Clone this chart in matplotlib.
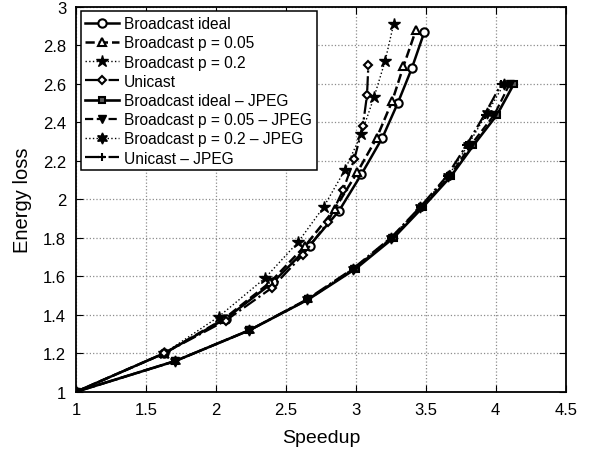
import matplotlib
matplotlib.use("Agg")
import matplotlib.pyplot as plt

plt.rcParams['font.family'] = ['Liberation Sans', 'DejaVu Sans']

# raw (non-JPEG) curves
bi_x = [1, 1.63, 2.07, 2.41, 2.67, 2.88, 3.04, 3.19, 3.30, 3.40, 3.49]
bi_y = [1, 1.20, 1.38, 1.57, 1.76, 1.94, 2.13, 2.32, 2.50, 2.68, 2.87]
b05_x = [1, 1.63, 2.06, 2.39, 2.64, 2.85, 3.01, 3.15, 3.26, 3.34, 3.43]
b05_y = [1, 1.20, 1.38, 1.57, 1.76, 1.95, 2.14, 2.32, 2.51, 2.69, 2.88]
b2_x = [1, 1.63, 2.02, 2.35, 2.59, 2.77, 2.92, 3.04, 3.13, 3.21, 3.27]
b2_y = [1, 1.20, 1.39, 1.59, 1.78, 1.96, 2.15, 2.34, 2.53, 2.72, 2.91]
uni_x = [1, 1.63, 2.07, 2.40, 2.62, 2.80, 2.91, 2.99, 3.05, 3.08, 3.09]
uni_y = [1, 1.20, 1.37, 1.54, 1.71, 1.88, 2.05, 2.21, 2.38, 2.54, 2.70]

# JPEG curves
bij_x = [1, 1.71, 2.24, 2.66, 3.00, 3.27, 3.48, 3.68, 3.84, 4.01, 4.13]
bij_y = [1, 1.16, 1.32, 1.48, 1.64, 1.80, 1.96, 2.12, 2.28, 2.44, 2.60]
b05j_x = [1, 1.71, 2.24, 2.66, 2.99, 3.26, 3.47, 3.67, 3.82, 3.99, 4.10]
b05j_y = [1, 1.16, 1.32, 1.48, 1.64, 1.80, 1.96, 2.12, 2.28, 2.44, 2.60]
b2j_x = [1, 1.71, 2.24, 2.65, 2.98, 3.25, 3.46, 3.66, 3.80, 3.94, 4.06]
b2j_y = [1, 1.16, 1.32, 1.48, 1.64, 1.80, 1.96, 2.12, 2.28, 2.45, 2.60]
unij_x = [1, 1.71, 2.24, 2.65, 2.98, 3.25, 3.46, 3.65, 3.79, 3.92, 4.04]
unij_y = [1, 1.16, 1.32, 1.48, 1.64, 1.80, 1.96, 2.12, 2.28, 2.44, 2.60]

fig = plt.figure(figsize=(5.93, 4.6), dpi=100)
ax = fig.add_axes([0.128, 0.146, 0.826, 0.837])

k = 'black'
ms = 6
ax.plot(bi_x, bi_y, '-', color=k, marker='o', mfc='white', mec=k, mew=1.5, ms=ms, lw=1.8, label='Broadcast ideal')
ax.plot(b05_x, b05_y, '--', color=k, marker='^', mfc='white', mec=k, mew=1.5, ms=ms, lw=1.8, label='Broadcast p = 0.05')
ax.plot(b2_x, b2_y, ':', color=k, marker='*', mfc=k, mec=k, ms=ms + 3, lw=1.0, label='Broadcast p = 0.2')
ax.plot(uni_x, uni_y, '-.', color=k, marker='D', mfc='white', mec=k, mew=1.5, ms=ms - 1.5, lw=1.6, label='Unicast')
ax.plot(bij_x, bij_y, '-', color=k, marker='s', mfc='0.35', mec=k, mew=1.5, ms=ms - 1, lw=1.9, label='Broadcast ideal \u2013 JPEG')
ax.plot(b05j_x, b05j_y, '--', color=k, marker='v', mfc=k, mec=k, ms=ms, lw=1.6, label='Broadcast p = 0.05 \u2013 JPEG')
ax.plot(b2j_x, b2j_y, ':', color=k, marker=(6, 1, 0), mfc=k, mec=k, ms=ms + 2, lw=1.0, label='Broadcast p = 0.2 \u2013 JPEG')
ax.plot(unij_x, unij_y, '-.', color=k, marker='+', mec=k, mew=1.5, ms=ms, lw=1.6, label='Unicast \u2013 JPEG')

ax.set_xlim(1, 4.5)
ax.set_ylim(1, 3)
ax.set_xticks([1, 1.5, 2, 2.5, 3, 3.5, 4, 4.5])
ax.set_xticklabels(['1', '1.5', '2', '2.5', '3', '3.5', '4', '4.5'])
ax.set_yticks([1, 1.2, 1.4, 1.6, 1.8, 2, 2.2, 2.4, 2.6, 2.8, 3])
ax.set_yticklabels(['1', '1.2', '1.4', '1.6', '1.8', '2', '2.2', '2.4', '2.6', '2.8', '3'])
ax.grid(True, linestyle=':', color='0.55', lw=0.9)
ax.tick_params(direction='in', top=True, right=True, labelsize=12, length=5, pad=7)
for s in ax.spines.values():
    s.set_linewidth(1.3)

ax.set_xlabel('Speedup', fontsize=14, labelpad=9)
ax.set_ylabel('Energy loss', fontsize=14.5, labelpad=8)

leg = ax.legend(loc='upper left', fontsize=11.2, handlelength=2.2, handletextpad=0.3,
                labelspacing=0.27, borderpad=0.3, fancybox=False, framealpha=1,
                edgecolor='black', borderaxespad=0.3)
leg.get_frame().set_linewidth(1.1)

plt.savefig('out.png', dpi=100)
